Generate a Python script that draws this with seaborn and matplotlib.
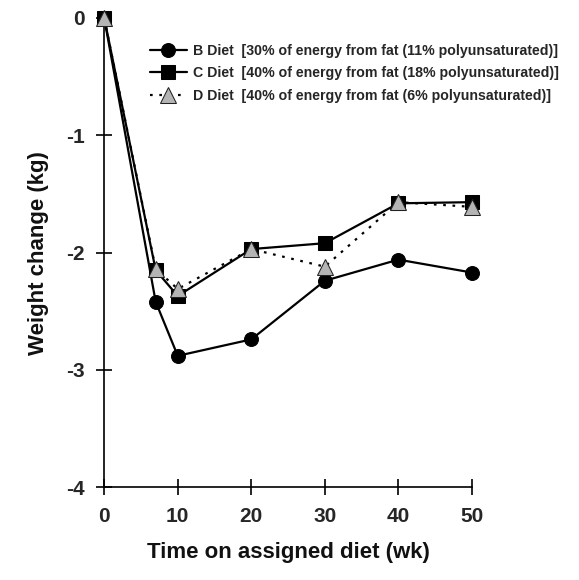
import pandas as pd
import matplotlib
matplotlib.use('Agg')
import matplotlib.pyplot as plt
import seaborn as sns

weeks = [0, 7, 10, 20, 30, 40, 50]
b_diet = [0, -2.42, -2.88, -2.74, -2.24, -2.06, -2.17]
c_diet = [0, -2.15, -2.37, -1.97, -1.92, -1.58, -1.57]
d_diet = [0, -2.14, -2.31, -1.97, -2.12, -1.57, -1.61]

labels = [
    'B Diet  [30% of energy from fat (11% polyunsaturated)]',
    'C Diet  [40% of energy from fat (18% polyunsaturated)]',
    'D Diet  [40% of energy from fat (6% polyunsaturated)]',
]

sns.set_style('white')
plt.rcParams['font.family'] = ['Liberation Sans', 'DejaVu Sans']

fig = plt.figure(figsize=(5.79, 5.80), dpi=100)
ax = fig.add_axes([0.18, 0.16, 0.635, 0.809])

styles = [
    dict(marker='o', markersize=10, markerfacecolor='black', markeredgecolor='black', linestyle='-'),
    dict(marker='s', markersize=10, markerfacecolor='black', markeredgecolor='black', linestyle='-'),
    dict(marker='^', markersize=12, markerfacecolor='#b4b4b4', markeredgecolor='#222222', linestyle=(0, (1.2, 3))),
]

for vals, lab, st in zip([b_diet, c_diet, d_diet], labels, styles):
    df = pd.DataFrame({'week': weeks, 'change': vals})
    sns.lineplot(data=df, x='week', y='change', ax=ax, color='black', linewidth=1.6,
                 label=lab, clip_on=False, zorder=3, **st)

ax.set_xlim(0, 50)
ax.set_ylim(-4, 0)
ax.set_xticks([0, 10, 20, 30, 40, 50])
ax.set_yticks([0, -1, -2, -3, -4])
ax.set_yticklabels(['0', '-1', '-2', '-3', '-4'])
for s in ['top', 'right']:
    ax.spines[s].set_visible(False)
for s in ['left', 'bottom']:
    ax.spines[s].set_color('black')
    ax.spines[s].set_linewidth(1.2)
ax.tick_params(axis='both', direction='inout', length=12, width=1.2, color='black',
               labelsize=15, pad=8, bottom=True, left=True)
for t in ax.get_xticklabels() + ax.get_yticklabels():
    t.set_fontweight('bold')
ax.set_xlabel('Time on assigned diet (wk)', fontsize=16, fontweight='bold', color='#111111', labelpad=12)
ax.set_ylabel('Weight change (kg)', fontsize=16, fontweight='bold', color='#111111', labelpad=12)

leg = ax.legend(loc='upper left', bbox_to_anchor=(0.09, 0.972), frameon=False,
                fontsize=10.2, handlelength=2.6, handletextpad=0.4, labelspacing=0.6)
for t in leg.get_texts():
    t.set_fontweight('bold')
leg.set_clip_on(False)

fig.savefig('out.png', dpi=100)
